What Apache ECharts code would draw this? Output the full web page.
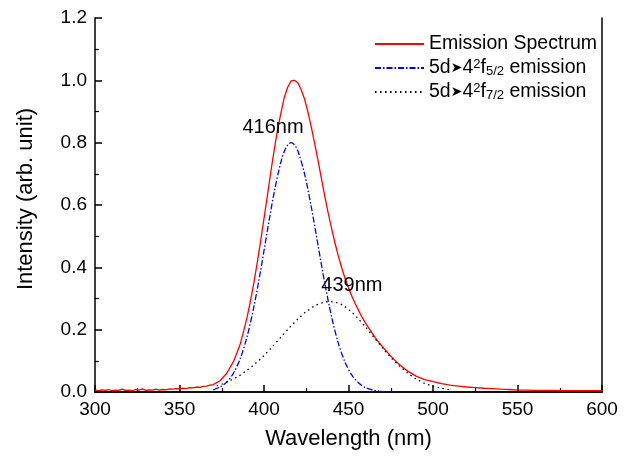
<!DOCTYPE html>
<html><head><meta charset="utf-8">
<script src="https://cdn.jsdelivr.net/npm/echarts@6/dist/echarts.min.js"></script>
<style>html,body{margin:0;padding:0;background:#fff}#c{width:631px;height:457px}</style>
</head><body><div id="c"></div>
<script>
// Emission spectrum (measured, noisy)
const redX = [300,302,304,306,308,310,312,314,316,318,320,322,324,326,328,330,332,334,336,338,340,342,344,346,348,350,352,354,356,358,360,362,364,366,368,
  370,372,374,376,378,380,382,384,386,388,390,392,394,396,398,400,402,404,406,408,410,412,414,416,417,418,420,422,424,426,428,430,432,434,436,438,440,
  442,444,446,448,450,452,454,456,458,460,462,464,466,468,470,475,480,485,490,495,500,505,510,515,520,525,530,535,540,545,550,555,560,570,580,590,600];
const redY = [0.006,0.004,0.007,0.005,0.008,0.004,0.006,0.005,0.009,0.005,0.006,0.004,0.008,0.006,0.010,0.005,0.007,0.006,0.009,0.006,0.008,0.007,0.010,0.009,0.011,0.010,0.012,0.011,0.014,0.013,0.016,0.015,0.018,0.019,0.022,
  0.024,0.030,0.036,0.048,0.060,0.080,0.098,0.126,0.155,0.196,0.240,0.292,0.350,0.415,0.485,0.556,0.630,0.705,0.775,0.840,0.895,0.945,0.978,0.998,0.992,1.000,0.992,0.970,0.940,0.898,0.850,0.796,0.742,0.684,0.627,0.574,0.524,
  0.478,0.436,0.398,0.364,0.334,0.307,0.283,0.261,0.240,0.222,0.205,0.189,0.173,0.159,0.146,0.115,0.088,0.067,0.051,0.040,0.033,0.027,0.022,0.019,0.016,0.014,0.012,0.011,0.009,0.008,0.006,0.006,0.005,0.005,0.004,0.004,0.004];
// 5d -> 4f5/2 fitted component
const blueX = [370,374,378,382,386,390,394,398,402,406,410,413,416,418,420,424,428,432,436,440,444,448,452,456,460,464,468,472,476];
const blueY = [0.007,0.016,0.032,0.061,0.108,0.178,0.273,0.390,0.518,0.640,0.738,0.784,0.800,0.793,0.774,0.700,0.593,0.470,0.348,0.241,0.156,0.095,0.054,0.029,0.014,0.007,0.003,0.001,0.0005];
// 5d -> 4f7/2 fitted component
const blackX = [372,376,380,385,390,395,400,405,410,415,420,425,430,435,439,443,447,451,455,460,465,470,475,480,485,490,495,500,505,510];
const blackY = [0.020,0.027,0.037,0.051,0.070,0.092,0.117,0.146,0.176,0.206,0.234,0.258,0.276,0.287,0.290,0.287,0.277,0.261,0.240,0.209,0.176,0.142,0.111,0.084,0.061,0.042,0.028,0.019,0.012,0.007];
const xTicks = [300,350,400,450,500,550,600];
const yTicks = [0.0,0.2,0.4,0.6,0.8,1.0,1.2];
const names = ['Emission Spectrum','5d-4f5/2 emission','5d-4f7/2 emission'];
const peaks = [{label:'416nm', x:416, y:0.80},{label:'439nm', x:439, y:0.29}];

const zip = (a,b)=>a.map((v,i)=>[v,b[i]]);
const FONT = 'Liberation Sans, Arial, sans-serif';
const chart = echarts.init(document.getElementById('c'));
const legendFmt = {
  'Emission Spectrum':'{m|Emission Spectrum}',
  '5d-4f5/2 emission':'{m|5d}{ar|\u27A4}{m|4}{sup|2}{m|f}{sub|5/2}{m| emission}',
  '5d-4f7/2 emission':'{m|5d}{ar|\u27A4}{m|4}{sup|2}{m|f}{sub|7/2}{m| emission}'
};
chart.setOption({
  animation:false,
  backgroundColor:'#fff',
  grid:{left:95,right:29,top:18,bottom:65},
  legend:{
    orient:'vertical', left:369, top:29, itemWidth:49, itemHeight:14, itemGap:4,
    data:names,
    itemStyle:{opacity:0},
    formatter:n=>legendFmt[n],
    textStyle:{fontFamily:FONT, fontSize:19.5, color:'#000',
      rich:{
        m:{fontFamily:FONT,fontSize:19.5,color:'#000',lineHeight:20},
        ar:{fontFamily:'DejaVu Sans',fontSize:14,color:'#000',lineHeight:20},
        sup:{fontFamily:FONT,fontSize:13,color:'#000',verticalAlign:'top',lineHeight:2},
        sub:{fontFamily:FONT,fontSize:13,color:'#000',verticalAlign:'bottom',lineHeight:2}
      }}
  },
  xAxis:[{
    type:'value', min:300, max:600, interval:50,
    name:'Wavelength (nm)', nameLocation:'middle', nameGap:36,
    nameTextStyle:{fontFamily:FONT,fontSize:22,color:'#000'},
    axisLine:{lineStyle:{color:'#000',width:1.5}},
    axisTick:{inside:true,length:7,lineStyle:{color:'#000',width:1.5}},
    minorTick:{show:true,splitNumber:2,length:4,lineStyle:{color:'#000',width:1.2}},
    axisLabel:{fontFamily:FONT,fontSize:19,color:'#000',margin:8,formatter:v=>xTicks.includes(v)?String(v):''},
    splitLine:{show:false}
  },{
    type:'value', min:300, max:600, position:'top',
    axisLine:{show:true,lineStyle:{color:'#000',width:1.5}},
    axisTick:{show:false}, axisLabel:{show:false}, splitLine:{show:false}
  }],
  yAxis:[{
    type:'value', min:0, max:1.2, interval:0.2,
    name:'Intensity (arb. unit)', nameLocation:'middle', nameGap:58,
    nameTextStyle:{fontFamily:FONT,fontSize:22,color:'#000',padding:[0,0,0,12]},
    axisLine:{show:true,lineStyle:{color:'#000',width:1.5}},
    axisTick:{inside:true,length:7,lineStyle:{color:'#000',width:1.5}},
    minorTick:{show:true,splitNumber:2,length:4,lineStyle:{color:'#000',width:1.2}},
    axisLabel:{fontFamily:FONT,fontSize:19,color:'#000',margin:8,formatter:v=>v.toFixed(1)},
    splitLine:{show:false}
  },{
    type:'value', min:0, max:1.2, position:'right',
    axisLine:{show:true,lineStyle:{color:'#000',width:1.5}},
    axisTick:{show:false}, axisLabel:{show:false}, splitLine:{show:false}
  }],
  series:[
    {name:names[0], type:'line', data:zip(redX,redY), symbol:'none', color:'#ff0000',
      lineStyle:{color:'#ff0000',width:1.3}},
    {name:names[1], type:'line', data:zip(blueX,blueY), symbol:'none', smooth:0.3, color:'#0000ff',
      lineStyle:{color:'#0000ff',width:1.3,type:[6,2,1.5,2]},
      markPoint:{symbol:'circle',symbolSize:0,
        data:[{coord:[peaks[0].x,peaks[0].y],label:{show:true,formatter:peaks[0].label,offset:[-18,-15],
          fontFamily:FONT,fontSize:20,color:'#000'}}]}},
    {name:names[2], type:'line', data:zip(blackX,blackY), symbol:'none', smooth:0.3, color:'#000',
      lineStyle:{color:'#000',width:1.3,type:[1.5,3.5]},
      markPoint:{symbol:'circle',symbolSize:0,
        data:[{coord:[peaks[1].x,peaks[1].y],label:{show:true,formatter:peaks[1].label,offset:[22,-16],
          fontFamily:FONT,fontSize:20,color:'#000'}}]}}
  ]
});
</script></body></html>
